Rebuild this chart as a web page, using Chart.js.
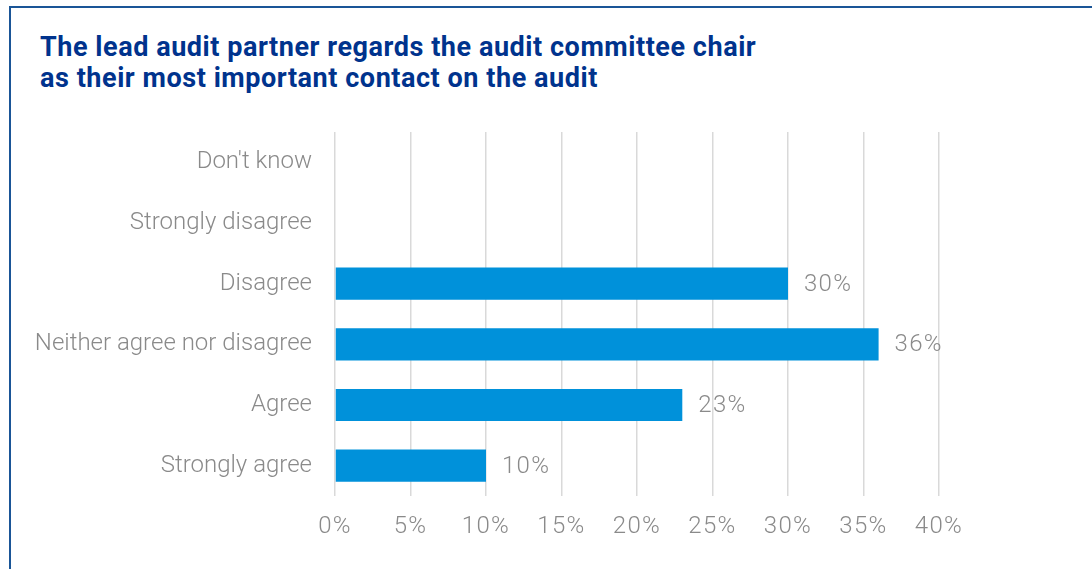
<!DOCTYPE html>
<html>
<head>
<meta charset="utf-8">
<script src="https://cdn.jsdelivr.net/npm/chart.js@4.4.1/dist/chart.umd.min.js"></script>
<style>
  html, body { margin: 0; padding: 0; background: #ffffff; }
  body { width: 1092px; height: 569px; position: relative; overflow: hidden; }
  .frame {
    position: absolute; left: 9px; top: 6px; width: 1200px; height: 700px;
    border: 2px solid #1a5597; box-sizing: border-box;
  }
  h1 {
    position: absolute; left: 40px; top: 32px; margin: 0;
    font-family: Roboto, "Liberation Sans", sans-serif; font-weight: 700;
    font-size: 27px; line-height: 31px; letter-spacing: 0.55px; color: #00338d;
  }
  #wrap { position: absolute; left: 0; top: 0; width: 1092px; height: 569px; }
</style>
</head>
<body>
<div class="frame"></div>
<h1>The lead audit partner regards the audit committee chair<br>as their most important contact on the audit</h1>
<div id="wrap"><canvas id="chart"></canvas></div>
<script>
// Survey responses, listed top to bottom
const categories = ["Don't know", "Strongly disagree", "Disagree", "Neither agree nor disagree", "Agree", "Strongly agree"];
const shares = [0, 0, 30, 36, 23, 10];
const tickValues = [0, 5, 10, 15, 20, 25, 30, 35, 40];

const fontFamily = "Roboto, 'Liberation Sans', sans-serif";
const labelFont = { family: fontFamily, size: 24, weight: 300 };
const grey = '#8a8a8a';
const numberSpacing = '1.3px';

// Writes the percentage just past the end of each bar
const valueLabels = {
  id: 'valueLabels',
  afterDatasetsDraw(chart) {
    const ctx = chart.ctx;
    const meta = chart.getDatasetMeta(0);
    ctx.save();
    ctx.font = `${labelFont.weight} ${labelFont.size}px ${labelFont.family}`;
    ctx.letterSpacing = numberSpacing;
    ctx.fillStyle = grey;
    ctx.textAlign = 'left';
    ctx.textBaseline = 'middle';
    meta.data.forEach((bar, i) => {
      const v = shares[i];
      if (!v) return;
      ctx.fillText(v + '%', bar.x + 16, bar.y + 1);
    });
    ctx.restore();
  }
};

new Chart(document.getElementById('chart'), {
  type: 'bar',
  data: {
    labels: categories,
    datasets: [{
      data: shares,
      backgroundColor: '#0091da',
      borderWidth: 0,
      barPercentage: 0.53,
      categoryPercentage: 1
    }]
  },
  options: {
    indexAxis: 'y',
    responsive: true,
    maintainAspectRatio: false,
    animation: false,
    layout: { padding: { left: 0, right: 153, top: 132, bottom: 0 } },
    plugins: { legend: { display: false }, tooltip: { enabled: false } },
    scales: {
      x: {
        min: 0, max: 40,
        afterBuildTicks(scale) { scale.ticks = tickValues.map(v => ({ value: v })); },
        afterFit(scale) {
          scale.height = 73;
          // percentage ticks are set slightly wider apart than the category names
          if (!scale._spaced) {
            const drawLabels = scale.drawLabels;
            scale.drawLabels = function (area) {
              this.ctx.save();
              this.ctx.letterSpacing = numberSpacing;
              drawLabels.call(this, area);
              this.ctx.restore();
            };
            scale._spaced = true;
          }
        },
        border: { display: false },
        grid: { color: '#d9d9d9', lineWidth: 1.5, drawTicks: false },
        ticks: {
          padding: 17,
          color: grey,
          font: labelFont,
          callback: v => v + '%'
        }
      },
      y: {
        afterFit(scale) { scale.width = 335; },
        border: { display: false },
        grid: { display: false, drawTicks: false },
        ticks: { padding: 23, color: grey, font: labelFont }
      }
    }
  },
  plugins: [valueLabels]
});
</script>
</body>
</html>
